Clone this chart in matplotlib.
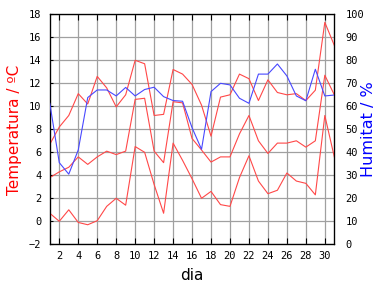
import matplotlib
matplotlib.use("Agg")
import matplotlib.pyplot as plt
import numpy as np

days = list(range(1, 32))
temp_max = [6.7, 8.2, 9.2, 11.1, 10.2, 12.6, 11.6, 9.95, 11.0, 14.0, 13.7, 9.2, 9.3, 13.2, 12.8,
            11.9, 10.1, 7.4, 10.8, 11.0, 12.8, 12.4, 10.5, 12.3, 11.2, 11.0, 11.1, 10.5, 11.4, 17.3, 15.3]
temp_mean = [3.8, 4.3, 4.7, 5.6, 4.95, 5.6, 6.1, 5.8, 6.1, 10.6, 10.7, 6.1, 5.1, 10.4, 10.3,
             7.2, 6.2, 5.15, 5.6, 5.6, 7.6, 9.2, 7.0, 5.9, 6.8, 6.8, 7.0, 6.45, 7.0, 12.7, 11.0]
temp_min = [0.7, 0.0, 1.0, -0.1, -0.3, 0.05, 1.3, 2.0, 1.4, 6.5, 6.0, 3.2, 0.7, 6.8, 5.3,
            3.7, 2.0, 2.6, 1.45, 1.3, 3.8, 5.7, 3.5, 2.4, 2.7, 4.2, 3.5, 3.3, 2.3, 9.2, 5.6]
humidity = [61.3, 35.5, 30.5, 41.0, 63.8, 67.1, 67.1, 64.5, 68.2, 64.5, 67.3, 68.3, 64.2, 62.5, 62.2,
            50.7, 41.3, 66.4, 70.0, 69.3, 63.5, 61.3, 74.0, 74.0, 78.4, 73.2, 64.5, 62.4, 76.1, 64.5, 64.9]

x_ticks = list(range(2, 31, 2))
t_ticks = list(range(-2, 19, 2))
h_ticks = list(range(0, 101, 10))

RED = "#ff4848"
BLUE = "#4848ff"
GRID = "#a0a0a0"
mono = "DejaVu Sans Mono"

fig = plt.figure(figsize=(3.84, 2.88), dpi=100)
ax = fig.add_axes([49.8/384, 1-244.3/288, (334.3-49.8)/384, (244.3-14.3)/288])

for s in (temp_max, temp_mean, temp_min):
    ax.plot(days, s, color=RED, lw=0.8, zorder=3)

ax.set_xlim(1, 31)
ax.set_ylim(-2, 18)
ax.set_xticks(x_ticks)
ax.set_yticks(t_ticks)
ax.grid(True, color=GRID, lw=0.9, zorder=0)
ax.set_axisbelow(True)
ax.tick_params(axis="x", direction="in", length=4, width=0.8, top=True, pad=5,
               labelsize=7.5, labelfontfamily=mono)
ax.tick_params(axis="y", direction="in", length=2.5, width=0.8, pad=6,
               labelsize=7.5, labelfontfamily=mono)
for sp in ax.spines.values():
    sp.set_linewidth(0.9)

ax2 = ax.twinx()
ax2.plot(days, humidity, color=BLUE, lw=0.8, zorder=4)
ax2.set_ylim(0, 100)
ax2.set_yticks(h_ticks)
ax2.tick_params(axis="y", length=0, pad=8, labelsize=7.5, labelfontfamily=mono)

fig.text(15/384, 1-130/288, "Temperatura / ºC", color="red", rotation=90,
         ha="center", va="center", fontsize=11)
fig.text(368/384, 1-129/288, "Humitat / %", color="blue", rotation=90,
         ha="center", va="center", fontsize=11.5)
fig.text(192/384, 1-275/288, "dia", color="black", ha="center", va="center",
         fontsize=11)

fig.savefig("out.png", dpi=100)
